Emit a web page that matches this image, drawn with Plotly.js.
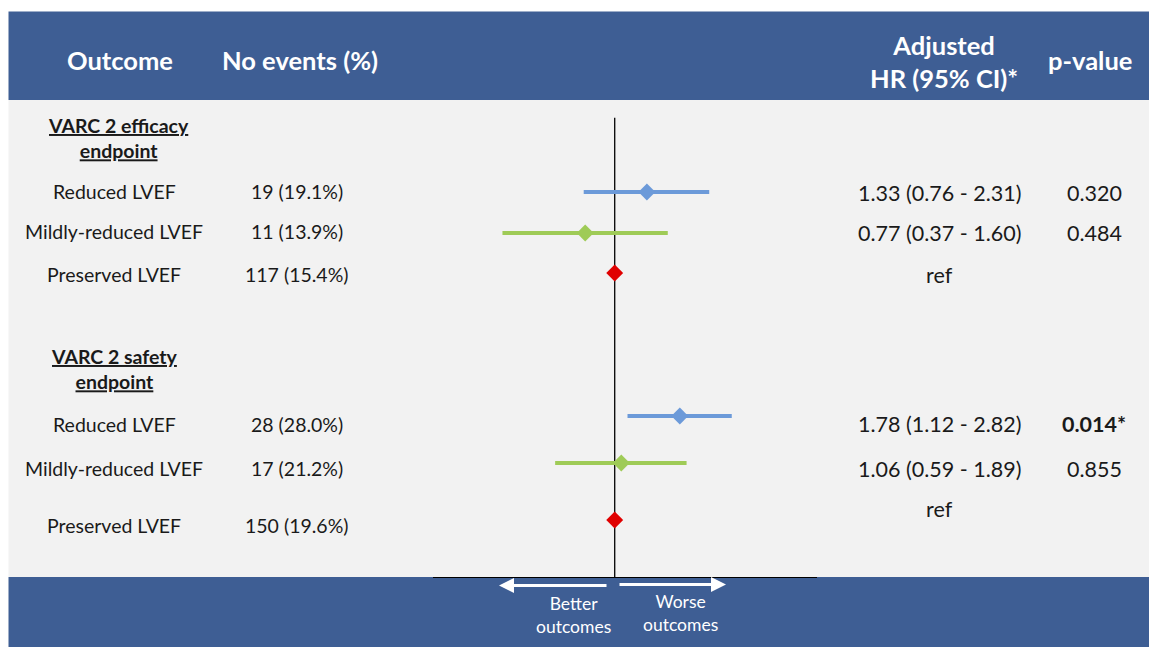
<!DOCTYPE html>
<html><head><meta charset="utf-8">
<script src="https://cdn.plot.ly/plotly-3.0.1.min.js"></script>
<style>html,body{margin:0;padding:0;background:#fff;} #chart{width:1149px;height:647px;}</style>
</head><body><div id="chart"></div>
<script>
// ---------------- DATA ----------------
const headers = ['Outcome', 'No events (%)', 'Adjusted<br>HR (95% CI)*', 'p-value'];
const groupTitles = ['VARC 2 efficacy<br>endpoint', 'VARC 2 safety<br>endpoint'];
const outcomes = ['Reduced LVEF', 'Mildly-reduced LVEF', 'Preserved LVEF'];
const eventsEfficacy = ['19 (19.1%)', '11 (13.9%)', '117 (15.4%)'];
const eventsSafety = ['28 (28.0%)', '17 (21.2%)', '150 (19.6%)'];
const hrEfficacy = [1.33, 0.77, 1];
const loEfficacy = [0.76, 0.37, null];
const hiEfficacy = [2.31, 1.60, null];
const pEfficacy = ['0.320', '0.484', ''];
const hrSafety = [1.78, 1.06, 1];
const loSafety = [1.12, 0.59, null];
const hiSafety = [2.82, 1.89, null];
const pSafety = ['0.014*', '0.855', ''];
const pSignificant = [false, false, false, true, false, false];
const refHR = 1;
const xRange = [0.2, 6];
const directionLabels = ['Better<br>outcomes', 'Worse<br>outcomes'];

// ---------------- LAYOUT (positions, styles) ----------------
const W = 1149, H = 647;
const px = x => x / W;
const py = y => 1 - y / H;
const BLUE_BAND = '#3e5e94';
const BODY = '#f2f2f2';
const TXT = '#1a1a1a';
const FONT = 'Lato, "Open Sans", sans-serif';
const seriesColors = ['#6c9ad9', '#9fcb57', '#e00000'];
const markerSizes = [13, 13, 13];
// marker row positions (axis units = pixel rows of the plot)
const markerRowY = [[192, 233, 273], [416, 463, 520]];
// text row positions
const textRowY = [[192, 232, 274], [424, 469, 525]];
const hrTextRowY = [[193, 233, 275], [424, 469, 509]];
const groupTitleY = [137.5, 369];
const colX = {outcome: 114, events: 297, hr: 939, p: 1094};
const SZ_LABEL = 19.5, SZ_NUM = 21.5, SZ_HEAD = 25.5, SZ_GROUP = 19.5, SZ_DIR = 17.5;

const hrAll = [hrEfficacy, hrSafety];
const loAll = [loEfficacy, loSafety];
const hiAll = [hiEfficacy, hiSafety];
const eventsAll = [eventsEfficacy, eventsSafety];
const pAll = [pEfficacy, pSafety];

// traces: one per LVEF category, points from both endpoints
const traces = outcomes.map((name, k) => {
  const xs = [], ys = [], plus = [], minus = [];
  for (let g = 0; g < 2; g++) {
    const hr = hrAll[g][k], lo = loAll[g][k], hi = hiAll[g][k];
    xs.push(hr); ys.push(markerRowY[g][k]);
    plus.push(hi == null ? 0 : hi - hr);
    minus.push(lo == null ? 0 : hr - lo);
  }
  const hasCI = loAll[0][k] != null;
  return {
    type: 'scatter', mode: 'markers', name, x: xs, y: ys,
    marker: {symbol: 'diamond', size: markerSizes[k], color: seriesColors[k], line: {width: 0}},
    error_x: hasCI ? {type: 'data', symmetric: false, array: plus, arrayminus: minus,
      color: seriesColors[k], thickness: 4, width: 0} : {visible: false},
    hoverinfo: 'skip', showlegend: false, cliponaxis: false
  };
});

const ann = [];
const addText = (text, x, y, size, color, bold) => ann.push({
  text: bold ? '<b>' + text + '</b>' : text, x: px(x), y: py(y), xref: 'paper', yref: 'paper',
  showarrow: false, xanchor: 'center', yanchor: 'middle', align: 'center',
  font: {family: FONT, size, color}
});
// header
addText(headers[0], 120, 60, SZ_HEAD, '#fff', true);
addText(headers[1], 300, 60, SZ_HEAD, '#fff', true);
addText(headers[2], 944, 62, SZ_HEAD, '#fff', true);
addText(headers[3], 1090, 60, SZ_HEAD, '#fff', true);
// groups
for (let g = 0; g < 2; g++) {
  const t = groupTitles[g].split('<br>').map(s => '<b><u>' + s + '</u></b>').join('<br>');
  ann.push({text: t, x: px(g === 0 ? 118 : 114), y: py(groupTitleY[g]), xref: 'paper', yref: 'paper',
    showarrow: false, xanchor: 'center', yanchor: 'middle', align: 'center',
    font: {family: FONT, size: SZ_GROUP, color: TXT}});
  for (let k = 0; k < 3; k++) {
    addText(outcomes[k], colX.outcome, textRowY[g][k], SZ_LABEL, TXT, false);
    addText(eventsAll[g][k], colX.events, textRowY[g][k], SZ_LABEL, TXT, false);
    const hr = hrAll[g][k], lo = loAll[g][k], hi = hiAll[g][k];
    const hrTxt = lo == null ? 'ref' : `${hr.toFixed(2)} (${lo.toFixed(2)} - ${hi.toFixed(2)})`;
    addText(hrTxt, colX.hr, hrTextRowY[g][k], SZ_NUM, TXT, false);
    if (pAll[g][k]) addText(pAll[g][k], colX.p, hrTextRowY[g][k], SZ_NUM, TXT, pSignificant[g * 3 + k]);
  }
}
// direction arrows
ann.push({x: px(499), y: py(585.5), xref: 'paper', yref: 'paper', ax: 109, ay: 0, text: '',
  showarrow: true, arrowhead: 2, arrowsize: 1, arrowwidth: 3, arrowcolor: '#fff', standoff: 0});
ann.push({x: px(726), y: py(584.5), xref: 'paper', yref: 'paper', ax: -108, ay: 0, text: '',
  showarrow: true, arrowhead: 2, arrowsize: 1, arrowwidth: 3, arrowcolor: '#fff', standoff: 0});
addText(directionLabels[0], 573, 615, SZ_DIR, '#fff', false);
addText(directionLabels[1], 680, 613, SZ_DIR, '#fff', false);

const shapes = [
  {type: 'rect', xref: 'paper', yref: 'paper', x0: px(8.5), x1: 1, y0: py(100), y1: py(577),
    fillcolor: BODY, line: {width: 0}, layer: 'below'},
  {type: 'rect', xref: 'paper', yref: 'paper', x0: px(8.5), x1: 1, y0: py(11.5), y1: py(100),
    fillcolor: BLUE_BAND, line: {width: 0}, layer: 'below'},
  {type: 'rect', xref: 'paper', yref: 'paper', x0: px(8.5), x1: 1, y0: 0, y1: py(577),
    fillcolor: BLUE_BAND, line: {width: 0}, layer: 'below'},
  {type: 'line', xref: 'x', yref: 'paper', x0: refHR, x1: refHR, y0: py(577), y1: py(117.7),
    line: {color: '#000', width: 1.3}, layer: 'below'}
];

const layout = {
  width: W, height: H, margin: {l: 0, r: 0, t: 0, b: 0},
  paper_bgcolor: '#fff', plot_bgcolor: 'rgba(0,0,0,0)',
  xaxis: {type: 'log', range: xRange.map(Math.log10), domain: [px(433), px(817)],
    showgrid: false, zeroline: false, showticklabels: false, ticks: '',
    showline: true, linecolor: '#000', linewidth: 1.3, fixedrange: true},
  yaxis: {range: [577, 117.7], domain: [py(577), py(117.7)], showgrid: false, zeroline: false,
    showticklabels: false, ticks: '', showline: false, fixedrange: true},
  shapes, annotations: ann, showlegend: false
};

Plotly.newPlot('chart', traces, layout, {displayModeBar: false, staticPlot: true});
</script></body></html>
